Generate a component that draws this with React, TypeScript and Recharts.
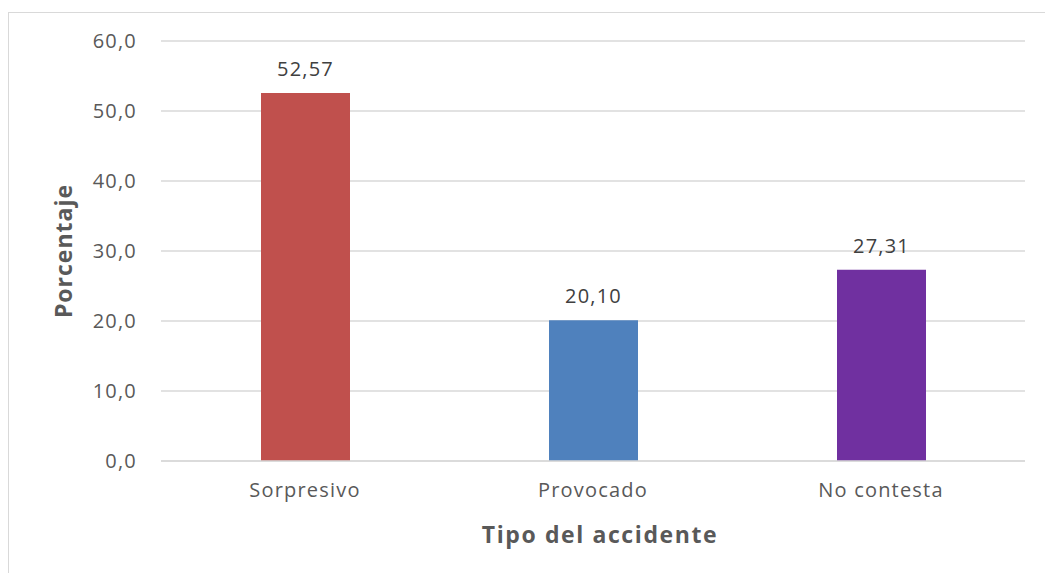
import React from 'react';
import { BarChart, Bar, XAxis, YAxis, CartesianGrid, Cell, LabelList } from 'recharts';

const categories = ['Sorpresivo', 'Provocado', 'No contesta'];
const values = [52.57, 20.1, 27.31];
const colors = ['#C0504D', '#4F81BD', '#7030A0'];
const yTicks = [0, 10, 20, 30, 40, 50, 60];

const data = categories.map((c, i) => ({ name: c, value: values[i] }));

const FONT = '"Open Sans", sans-serif';

export default function App() {
  return (
    <div style={{ position: 'fixed', left: 0, top: 0, width: 1045, height: 573, background: '#fff', overflow: 'hidden' }}>
      <div style={{ position: 'absolute', left: 8, top: 12, width: 1100, height: 600, border: '1px solid #d9d9d9', boxSizing: 'border-box' }} />
      <div style={{ position: 'absolute', left: 0, top: 0 }}>
        <BarChart width={1045} height={573} data={data} margin={{ top: 41, right: 20, bottom: 0, left: 101 }}>
          <CartesianGrid vertical={false} stroke="#d9d9d9" strokeWidth={1.5} />
          <XAxis
            dataKey="name"
            axisLine={{ stroke: '#d9d9d9', strokeWidth: 1.5 }}
            tickLine={false}
            tick={{ fill: '#595959', fontSize: 20, fontFamily: FONT, letterSpacing: 1.2 }}
            tickMargin={16}
            height={112}
          />
          <YAxis
            domain={[0, 60]}
            ticks={yTicks}
            interval={0}
            axisLine={false}
            tickLine={false}
            width={60}
            tickMargin={18}
            tickFormatter={(v: number) => v.toFixed(1).replace('.', ',')}
            tick={{ fill: '#595959', fontSize: 20, fontFamily: FONT, letterSpacing: 1.2 }}
          />
          <Bar dataKey="value" barSize={89} isAnimationActive={false}>
            {data.map((d, i) => (
              <Cell key={d.name} fill={colors[i]} />
            ))}
            <LabelList
              dataKey="value"
              position="top"
              offset={17}
              formatter={(v: number) => v.toFixed(2).replace('.', ',')}
              fill="#404040"
              fontSize={20}
              fontFamily={FONT}
              letterSpacing={1.2}
            />
          </Bar>
        </BarChart>
      </div>
      <div
        style={{
          position: 'absolute',
          left: 63,
          top: 251,
          transform: 'translate(-50%, -50%) rotate(-90deg)',
          fontFamily: FONT,
          fontWeight: 'bold',
          fontSize: 23,
          letterSpacing: 1,
          color: '#595959',
          whiteSpace: 'nowrap',
        }}
      >
        Porcentaje
      </div>
      <div
        style={{
          position: 'absolute',
          left: 600,
          top: 534,
          transform: 'translate(-50%, -50%)',
          fontFamily: FONT,
          fontWeight: 'bold',
          fontSize: 23,
          letterSpacing: 1.6,
          color: '#595959',
          whiteSpace: 'nowrap',
        }}
      >
        Tipo del accidente
      </div>
    </div>
  );
}
